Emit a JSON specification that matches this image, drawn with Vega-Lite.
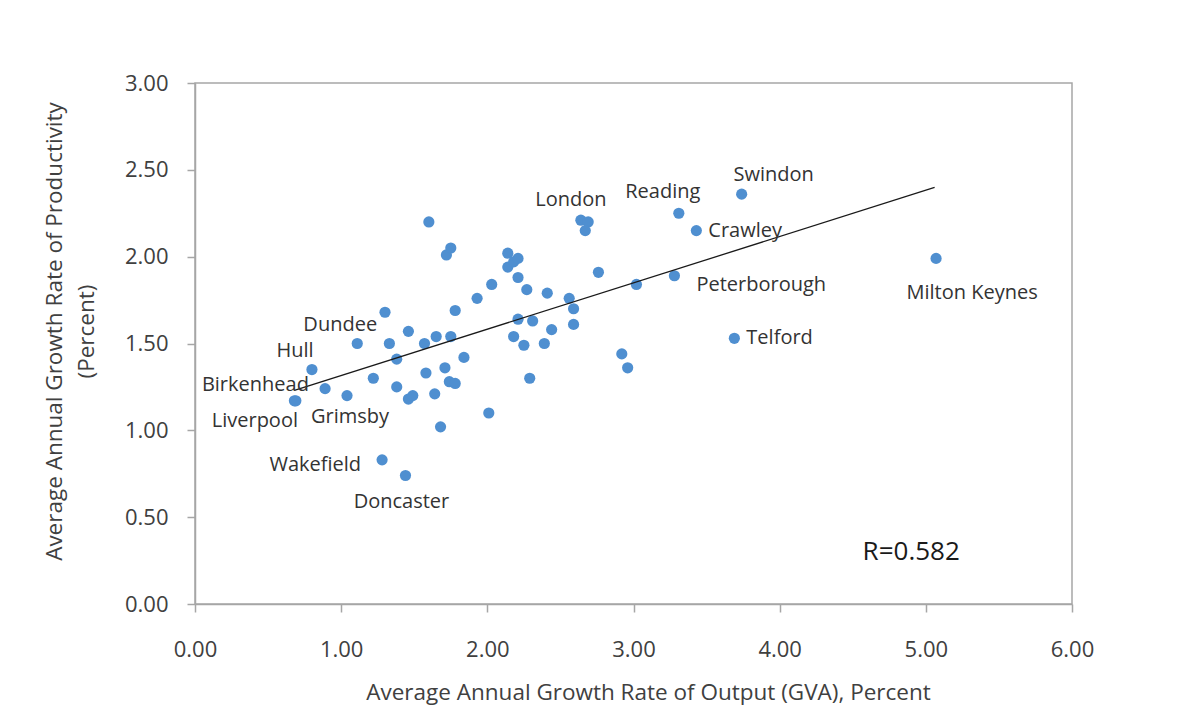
{
  "$schema": "https://vega.github.io/schema/vega-lite/v6.json",
  "width": 877,
  "height": 521,
  "autosize": "none",
  "padding": {"left": 195, "top": 83, "right": 107, "bottom": 123},
  "background": "white",
  "config": {
    "font": "Open Sans",
    "view": {"stroke": "#A6A6A6", "strokeWidth": 1.5},
    "axis": {
      "domainColor": "#A6A6A6",
      "domainWidth": 1.5,
      "tickColor": "#A6A6A6",
      "tickWidth": 1.5,
      "tickSize": 8,
      "grid": false,
      "labelFont": "Open Sans",
      "labelFontSize": 22,
      "labelColor": "#404040",
      "titleFont": "Open Sans",
      "titleFontSize": 22.5,
      "titleFontWeight": "normal",
      "titleColor": "#404040"
    }
  },
  "datasets": {
    "cities": [
      {"city": "Birkenhead", "gva": 0.68, "productivity": 1.17},
      {"city": "Liverpool", "gva": 0.69, "productivity": 1.17},
      {"city": "Hull", "gva": 0.80, "productivity": 1.35},
      {"city": "", "gva": 0.89, "productivity": 1.24},
      {"city": "Grimsby", "gva": 1.04, "productivity": 1.20},
      {"city": "Dundee", "gva": 1.11, "productivity": 1.50},
      {"city": "", "gva": 1.22, "productivity": 1.30},
      {"city": "Wakefield", "gva": 1.28, "productivity": 0.83},
      {"city": "", "gva": 1.30, "productivity": 1.68},
      {"city": "", "gva": 1.33, "productivity": 1.50},
      {"city": "", "gva": 1.38, "productivity": 1.41},
      {"city": "", "gva": 1.38, "productivity": 1.25},
      {"city": "Doncaster", "gva": 1.44, "productivity": 0.74},
      {"city": "", "gva": 1.46, "productivity": 1.18},
      {"city": "", "gva": 1.49, "productivity": 1.20},
      {"city": "", "gva": 1.46, "productivity": 1.57},
      {"city": "", "gva": 1.57, "productivity": 1.50},
      {"city": "", "gva": 1.58, "productivity": 1.33},
      {"city": "", "gva": 1.60, "productivity": 2.20},
      {"city": "", "gva": 1.64, "productivity": 1.21},
      {"city": "", "gva": 1.65, "productivity": 1.54},
      {"city": "", "gva": 1.68, "productivity": 1.02},
      {"city": "", "gva": 1.71, "productivity": 1.36},
      {"city": "", "gva": 1.72, "productivity": 2.01},
      {"city": "", "gva": 1.74, "productivity": 1.28},
      {"city": "", "gva": 1.75, "productivity": 2.05},
      {"city": "", "gva": 1.75, "productivity": 1.54},
      {"city": "", "gva": 1.78, "productivity": 1.27},
      {"city": "", "gva": 1.78, "productivity": 1.69},
      {"city": "", "gva": 1.84, "productivity": 1.42},
      {"city": "", "gva": 1.93, "productivity": 1.76},
      {"city": "", "gva": 2.01, "productivity": 1.10},
      {"city": "", "gva": 2.03, "productivity": 1.84},
      {"city": "", "gva": 2.14, "productivity": 2.02},
      {"city": "", "gva": 2.14, "productivity": 1.94},
      {"city": "", "gva": 2.18, "productivity": 1.97},
      {"city": "", "gva": 2.21, "productivity": 1.99},
      {"city": "", "gva": 2.21, "productivity": 1.88},
      {"city": "", "gva": 2.18, "productivity": 1.54},
      {"city": "", "gva": 2.21, "productivity": 1.64},
      {"city": "", "gva": 2.25, "productivity": 1.49},
      {"city": "", "gva": 2.27, "productivity": 1.81},
      {"city": "", "gva": 2.29, "productivity": 1.30},
      {"city": "", "gva": 2.31, "productivity": 1.63},
      {"city": "", "gva": 2.39, "productivity": 1.50},
      {"city": "", "gva": 2.41, "productivity": 1.79},
      {"city": "", "gva": 2.44, "productivity": 1.58},
      {"city": "", "gva": 2.56, "productivity": 1.76},
      {"city": "", "gva": 2.59, "productivity": 1.70},
      {"city": "", "gva": 2.59, "productivity": 1.61},
      {"city": "London", "gva": 2.64, "productivity": 2.21},
      {"city": "", "gva": 2.69, "productivity": 2.20},
      {"city": "", "gva": 2.67, "productivity": 2.15},
      {"city": "", "gva": 2.76, "productivity": 1.91},
      {"city": "", "gva": 2.92, "productivity": 1.44},
      {"city": "", "gva": 2.96, "productivity": 1.36},
      {"city": "", "gva": 3.02, "productivity": 1.84},
      {"city": "Peterborough", "gva": 3.28, "productivity": 1.89},
      {"city": "Reading", "gva": 3.31, "productivity": 2.25},
      {"city": "Crawley", "gva": 3.43, "productivity": 2.15},
      {"city": "Telford", "gva": 3.69, "productivity": 1.53},
      {"city": "Swindon", "gva": 3.74, "productivity": 2.36},
      {"city": "Milton Keynes", "gva": 5.07, "productivity": 1.99}
    ]
  },
  "data": {"name": "cities"},
  "encoding": {
    "x": {
      "field": "gva",
      "type": "quantitative",
      "scale": {"domain": [0, 6], "nice": false, "zero": false},
      "axis": {
        "title": "Average Annual Growth Rate of Output (GVA), Percent",
        "values": [0, 1, 2, 3, 4, 5, 6],
        "format": ".2f",
        "labelFlush": false,
        "labelPadding": 27,
        "titlePadding": 21,
        "titleX": 453
      }
    },
    "y": {
      "field": "productivity",
      "type": "quantitative",
      "scale": {"domain": [0, 3], "nice": false, "zero": false},
      "axis": {
        "title": ["Average Annual Growth Rate of Productivity", "(Percent)"],
        "values": [0, 0.5, 1, 1.5, 2, 2.5, 3],
        "format": ".2f",
        "labelFlush": false,
        "labelPadding": 19,
        "titlePadding": 26,
        "titleLineHeight": 32,
        "titleY": 248
      }
    }
  },
  "layer": [
    {
      "mark": {"type": "circle", "size": 125, "color": "#4F8FD0", "opacity": 1}
    },
    {
      "transform": [
        {"regression": "productivity", "on": "gva", "extent": [0.68, 5.06]}
      ],
      "mark": {"type": "line", "color": "#1a1a1a", "strokeWidth": 1.3}
    },
    {
      "transform": [{"filter": "datum.city === 'London'"}],
      "mark": {"type": "text", "dx": -10, "dy": -20, "fontSize": 20, "color": "#333333", "align": "center", "baseline": "middle"},
      "encoding": {"text": {"field": "city"}}
    },
    {
      "transform": [{"filter": "datum.city === 'Reading'"}],
      "mark": {"type": "text", "dx": -16, "dy": -21, "fontSize": 20, "color": "#333333", "align": "center", "baseline": "middle"},
      "encoding": {"text": {"field": "city"}}
    },
    {
      "transform": [{"filter": "datum.city === 'Swindon'"}],
      "mark": {"type": "text", "dx": 32, "dy": -19, "fontSize": 20, "color": "#333333", "align": "center", "baseline": "middle"},
      "encoding": {"text": {"field": "city"}}
    },
    {
      "transform": [{"filter": "datum.city === 'Crawley' || datum.city === 'Telford'"}],
      "mark": {"type": "text", "dx": 12, "dy": 0, "fontSize": 20, "color": "#333333", "align": "left", "baseline": "middle"},
      "encoding": {"text": {"field": "city"}}
    },
    {
      "transform": [{"filter": "datum.city === 'Peterborough'"}],
      "mark": {"type": "text", "dx": 22, "dy": 9, "fontSize": 20, "color": "#333333", "align": "left", "baseline": "middle"},
      "encoding": {"text": {"field": "city"}}
    },
    {
      "transform": [{"filter": "datum.city === 'Milton Keynes'"}],
      "mark": {"type": "text", "dx": 36, "dy": 35, "fontSize": 20, "color": "#333333", "align": "center", "baseline": "middle"},
      "encoding": {"text": {"field": "city"}}
    },
    {
      "transform": [{"filter": "datum.city === 'Dundee' || datum.city === 'Hull'"}],
      "mark": {"type": "text", "dx": -17, "dy": -19, "fontSize": 20, "color": "#333333", "align": "center", "baseline": "middle"},
      "encoding": {"text": {"field": "city"}}
    },
    {
      "transform": [{"filter": "datum.city === 'Birkenhead'"}],
      "mark": {"type": "text", "dx": -39, "dy": -16, "fontSize": 20, "color": "#333333", "align": "center", "baseline": "middle"},
      "encoding": {"text": {"field": "city"}}
    },
    {
      "transform": [{"filter": "datum.city === 'Liverpool'"}],
      "mark": {"type": "text", "dx": -41, "dy": 20, "fontSize": 20, "color": "#333333", "align": "center", "baseline": "middle"},
      "encoding": {"text": {"field": "city"}}
    },
    {
      "transform": [{"filter": "datum.city === 'Grimsby'"}],
      "mark": {"type": "text", "dx": 3, "dy": 21, "fontSize": 20, "color": "#333333", "align": "center", "baseline": "middle"},
      "encoding": {"text": {"field": "city"}}
    },
    {
      "transform": [{"filter": "datum.city === 'Wakefield'"}],
      "mark": {"type": "text", "dx": -21, "dy": 5, "fontSize": 20, "color": "#333333", "align": "right", "baseline": "middle"},
      "encoding": {"text": {"field": "city"}}
    },
    {
      "transform": [{"filter": "datum.city === 'Doncaster'"}],
      "mark": {"type": "text", "dx": -4, "dy": 27, "fontSize": 20, "color": "#333333", "align": "center", "baseline": "middle"},
      "encoding": {"text": {"field": "city"}}
    },
    {
      "data": {"values": [{"note": "R=0.582", "gva": 4.9, "productivity": 0.3}]},
      "mark": {"type": "text", "fontSize": 26, "color": "#1a1a1a", "align": "center", "baseline": "middle"},
      "encoding": {
        "text": {"field": "note", "type": "nominal"}
      }
    }
  ]
}
